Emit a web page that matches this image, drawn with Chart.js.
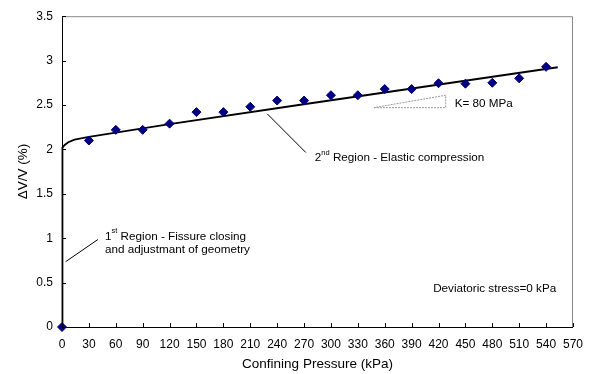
<!DOCTYPE html>
<html>
<head>
<meta charset="utf-8">
<script src="https://cdn.jsdelivr.net/npm/chart.js@4/dist/chart.umd.min.js"></script>
<style>
  html, body { margin: 0; padding: 0; background: #fff; }
  #wrap { width: 593px; height: 374px; }
</style>
</head>
<body>
<div id="wrap"><canvas id="grafico"></canvas></div>
<script>
// dados medidos
const pressao = [0, 30, 60, 90, 120, 150, 180, 210, 240, 270, 300, 330, 360, 390, 420, 450, 480, 510, 540];
const deformacao = [0, 2.10, 2.22, 2.22, 2.29, 2.42, 2.42, 2.48, 2.55, 2.55, 2.61, 2.61, 2.68, 2.68, 2.745, 2.74, 2.75, 2.80, 2.93];

// curva ajustada
const ajusteX = [0, 0, 1, 3, 7, 14, 30, 120, 264, 553];
const ajusteY = [0, 1.98, 2.02, 2.05, 2.08, 2.11, 2.14, 2.285, 2.50, 2.925];

// triangulo do modulo K
const trianguloX = [348, 428, 428, 348];
const trianguloY = [2.47, 2.47, 2.61, 2.47];

// linhas de chamada
const chamada1X = [40, 4];
const chamada1Y = [0.985, 0.735];
const chamada2X = [229, 272];
const chamada2Y = [2.40, 1.965];

const xTicks = [0, 30, 60, 90, 120, 150, 180, 210, 240, 270, 300, 330, 360, 390, 420, 450, 480, 510, 540, 570];
const yTicks = [0, 0.5, 1, 1.5, 2, 2.5, 3, 3.5];

const pares = (xs, ys) => xs.map((x, i) => ({ x: x, y: ys[i] }));

const fonte = "'Liberation Sans', Arial, sans-serif";

// textos e ticks internos
const anotacoes = {
  id: "anotacoes",
  beforeDatasetsDraw(chart) {
    const { ctx, chartArea } = chart;
    ctx.save();
    ctx.strokeStyle = "#888";
    ctx.lineWidth = 1;
    ctx.beginPath();
    ctx.moveTo(chartArea.left, chartArea.top + 0.5);
    ctx.lineTo(chartArea.right - 0.5, chartArea.top + 0.5);
    ctx.lineTo(chartArea.right - 0.5, chartArea.bottom);
    ctx.stroke();
    ctx.restore();
  },
  afterDraw(chart) {
    const { ctx, chartArea } = chart;
    const sx = chart.scales.x;
    const sy = chart.scales.y;
    ctx.save();
    ctx.strokeStyle = "#000";
    ctx.lineWidth = 1;
    ctx.beginPath();
    sx.ticks.forEach(t => {
      const px = Math.round(sx.getPixelForValue(t.value)) + 0.5;
      ctx.moveTo(px, chartArea.bottom);
      ctx.lineTo(px, chartArea.bottom - 4);
    });
    sy.ticks.forEach(t => {
      const py = Math.round(sy.getPixelForValue(t.value)) + 0.5;
      ctx.moveTo(chartArea.left, py);
      ctx.lineTo(chartArea.left + 4, py);
    });
    ctx.stroke();

    ctx.fillStyle = "#000";
    ctx.textBaseline = "middle";
    ctx.textAlign = "left";

    function texto(xv, yv, partes) {
      let px = sx.getPixelForValue(xv);
      const py = sy.getPixelForValue(yv);
      partes.forEach(p => {
        if (p.sup) {
          ctx.font = "7.5px " + fonte;
          ctx.fillText(p.t, px, py - 5);
        } else {
          ctx.font = "11.7px " + fonte;
          ctx.fillText(p.t, px, py);
        }
        px += ctx.measureText(p.t).width;
      });
    }

    texto(48, 1.02, [{ t: "1" }, { t: "st", sup: true }, { t: " Region - Fissure closing" }]);
    texto(48, 0.865, [{ t: "and adjustmant of geometry" }]);
    texto(282, 1.905, [{ t: "2" }, { t: "nd", sup: true }, { t: " Region - Elastic compression" }]);
    texto(438, 2.515, [{ t: "K= 80 MPa" }]);
    texto(414, 0.425, [{ t: "Deviatoric stress=0 kPa" }]);
    ctx.restore();
  }
};

const ctx = document.getElementById("grafico").getContext("2d");

new Chart(ctx, {
  type: "scatter",
  data: {
    datasets: [
      {
        label: "Ajuste",
        data: pares(ajusteX, ajusteY),
        showLine: true,
        borderColor: "#000",
        borderWidth: 1.8,
        pointRadius: 0,
        tension: 0,
        clip: false,
        order: 2
      },
      {
        label: "Medido",
        data: pares(pressao, deformacao),
        pointStyle: "rectRot",
        pointRadius: 4.5,
        backgroundColor: "#000080",
        borderColor: "#000080",
        borderWidth: 1,
        clip: false,
        order: 1
      },
      {
        label: "K",
        data: pares(trianguloX, trianguloY),
        showLine: true,
        borderColor: "#999",
        borderWidth: 1,
        borderDash: [2, 1],
        pointRadius: 0,
        order: 3
      },
      {
        label: "c1",
        data: pares(chamada1X, chamada1Y),
        showLine: true,
        borderColor: "#000",
        borderWidth: 1,
        pointRadius: 0,
        order: 3
      },
      {
        label: "c2",
        data: pares(chamada2X, chamada2Y),
        showLine: true,
        borderColor: "#000",
        borderWidth: 1,
        pointRadius: 0,
        order: 3
      }
    ]
  },
  options: {
    responsive: true,
    maintainAspectRatio: false,
    animation: false,
    layout: { padding: { top: 15, right: 17, left: 0, bottom: 0 } },
    plugins: {
      legend: { display: false },
      tooltip: { enabled: false }
    },
    scales: {
      x: {
        type: "linear",
        min: 0,
        max: 570,
        afterBuildTicks: s => { s.ticks = xTicks.map(v => ({ value: v })); },
        afterFit: s => { s.height = 47; },
        grid: { display: false, drawTicks: false },
        border: { display: true, color: "#000", width: 1 },
        ticks: { color: "#000", padding: 10, maxRotation: 0, autoSkip: false, font: { family: fonte, size: 12 } },
        title: {
          display: true,
          text: "Confining Pressure (kPa)",
          color: "#000",
          font: { family: fonte, size: 13.5 },
          padding: { top: 0, bottom: 2 }
        }
      },
      y: {
        type: "linear",
        min: 0,
        max: 3.5,
        afterBuildTicks: s => { s.ticks = yTicks.map(v => ({ value: v })); },
        afterFit: s => { s.width = 62; },
        grid: { display: false, drawTicks: false },
        border: { display: true, color: "#000", width: 1 },
        ticks: {
          color: "#000",
          padding: 9,
          font: { family: fonte, size: 12 },
          callback: v => String(v)
        },
        title: {
          display: true,
          text: "ΔV/V (%)",
          color: "#000",
          font: { family: fonte, size: 13.5 },
          padding: { top: 15, bottom: 0 }
        }
      }
    }
  },
  plugins: [anotacoes]
});
</script>
</body>
</html>
